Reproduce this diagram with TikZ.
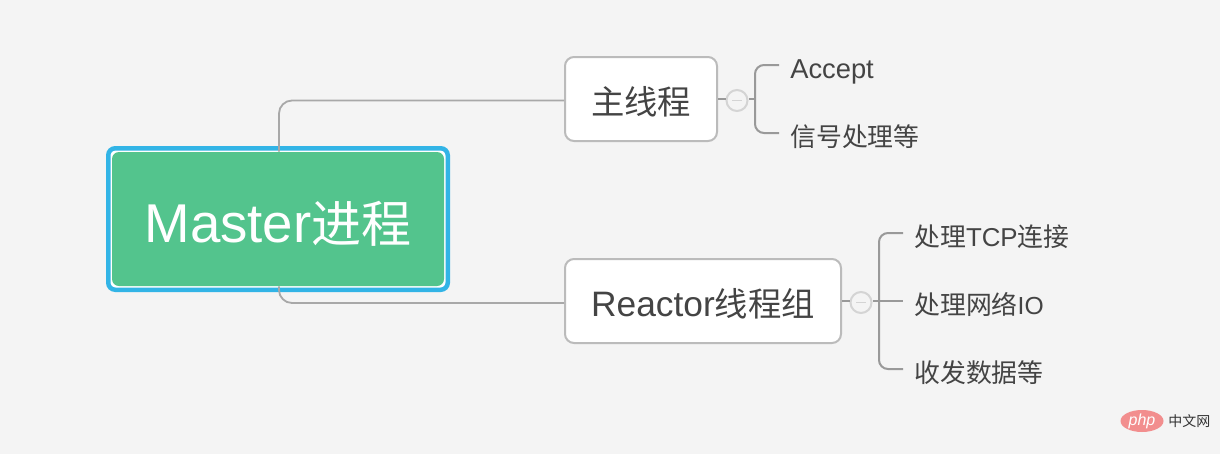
\documentclass[tikz,border=0pt]{standalone}
\usepackage{fontspec}
\setmainfont{Liberation Sans}
\newfontfamily\cjk{Noto Sans CJK SC}
\usetikzlibrary{positioning,shapes.geometric}
\definecolor{bgc}{HTML}{F4F4F4}
\definecolor{greenc}{HTML}{53C48D}
\definecolor{bluec}{HTML}{32B4E6}
\definecolor{linec}{HTML}{A8A8A8}
\definecolor{branchc}{HTML}{999999}
\definecolor{boxc}{HTML}{BBBBBB}
\definecolor{textc}{HTML}{444444}
\definecolor{dotc}{HTML}{D4D4D4}
\definecolor{phpc}{HTML}{F28E8E}
\def\pxu{0.75pt}
\newcommand{\rootcjk}[1]{{\fontsize{37.5}{37.5}\selectfont\cjk #1}}
\newcommand{\topiccjk}[1]{{\fontsize{25}{25}\selectfont\cjk #1}}
\newcommand{\leafcjk}[1]{{\fontsize{19.4}{19.4}\selectfont\cjk #1}}
\newcommand{\lowered}[2]{\raisebox{-#1pt}[0pt][0pt]{#2}}
\tikzset{
  framebox/.style={draw=bluec,line width=4.5*\pxu,fill=white,rounded corners=7*\pxu,minimum width=339.5*\pxu,minimum height=141.5*\pxu,inner sep=0pt},
  rootbox/.style={fill=greenc,rounded corners=7*\pxu,minimum width=332*\pxu,minimum height=134*\pxu,inner sep=0pt,text=white,font=\fontsize{41}{41}\selectfont},
  topicbox/.style={draw=boxc,line width=2*\pxu,fill=white,rounded corners=9*\pxu,minimum height=84*\pxu,inner sep=0pt,text=textc,font=\fontsize{26.5}{26.5}\selectfont},
  leaf/.style={anchor=west,inner xsep=11*\pxu,inner ysep=0pt,text height=27*\pxu,text depth=0pt,text=textc,font=\fontsize{20.5}{20.5}\selectfont},
  dotbox/.style={circle,draw=dotc,line width=2*\pxu,fill=bgc,minimum size=21*\pxu,inner sep=0pt},
  mainline/.style={draw=linec,line width=1.8*\pxu,rounded corners=13*\pxu},
  branch/.style={draw=branchc,line width=2*\pxu,rounded corners=9*\pxu},
  stub/.style={draw=branchc,line width=2*\pxu},
  minusmark/.style={draw=dotc,line width=1.5*\pxu}
}
\begin{document}
\begin{tikzpicture}[x=0.75pt,y=-0.75pt]
\fill[bgc] (0,0) rectangle (1220,454);
\useasboundingbox (0,0) rectangle (1220,454);
% root
\node[framebox] (frame) at (278,219) {};
\node[rootbox] (root) at (278,219) {\lowered{17.25}{Master\rootcjk{进程}}};
% topics
\node[topicbox,minimum width=152*\pxu] (main) at (641,99) {\lowered{11.6}{\topiccjk{主线程}}};
\node[topicbox,minimum width=276*\pxu] (reactor) at (703,301) {\lowered{11.6}{Reactor\topiccjk{线程组}}};
% connectors root-topic
\draw[mainline] ([xshift=1*\pxu]root.north) |- ([yshift=-1.5*\pxu]main.west);
\draw[mainline] ([xshift=1*\pxu]root.south) |- ([yshift=-2*\pxu]reactor.west);
% leaves
\node[leaf] (accept) at (779,65) {Accept};
\node[leaf] (signal) at (779,133) {\leafcjk{信号处理等}};
\node[leaf] (tcp) at (903,233) {\leafcjk{处理}{\fontsize{19.4}{19.4}\selectfont TCP}\leafcjk{连接}};
\node[leaf] (net) at (903,301) {\leafcjk{处理网络}{\fontsize{18.5}{18.5}\selectfont IO}};
\node[leaf] (recv) at (903,369) {\leafcjk{收发数据等}};
% collapse dots
\node[dotbox] (dotA) at (737,100.5) {};
\node[dotbox] (dotB) at (861,302.5) {};
\draw[minusmark] ([xshift=-5*\pxu]dotA.center) -- ([xshift=5*\pxu]dotA.center);
\draw[minusmark] ([xshift=-5*\pxu]dotB.center) -- ([xshift=5*\pxu]dotB.center);
\draw[stub] (main.east) -- (main.east -| dotA.west);
\draw[stub] (reactor.east) -- (reactor.east -| dotB.west);
% branches
\coordinate (spineA) at (755,99);
\coordinate (spineB) at (879,301);
\draw[stub] (spineA -| dotA.east) -- (spineA);
\draw[branch] (accept.west) -- (accept.west -| spineA) -- (signal.west -| spineA) -- (signal.west);
\draw[stub] (net.west -| dotB.east) -- (net.west);
\draw[branch] (tcp.west) -- (tcp.west -| spineB) -- (recv.west -| spineB) -- (recv.west);
% watermark
\node[ellipse,fill=phpc,minimum width=43*\pxu,minimum height=22*\pxu,inner sep=0pt,text=white,font=\fontsize{12}{12}\selectfont\itshape] (php) at (1142,421) {php};
\node[anchor=west,inner sep=0pt,text=black!80,font=\fontsize{10.5}{10.5}\selectfont] (cn) at (1168,421) {\cjk 中文网};
\end{tikzpicture}
\end{document}
